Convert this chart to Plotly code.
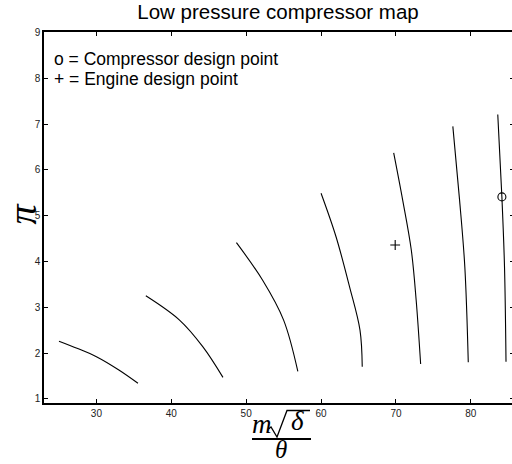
import plotly.graph_objects as go

# Speed lines of the low pressure compressor map
speed_lines = [
    ([25.0, 27.5, 30.0, 33.0, 35.55], [2.26, 2.10, 1.92, 1.63, 1.34]),
    ([36.6, 41.1, 44.2, 46.9], [3.25, 2.72, 2.14, 1.47]),
    ([48.7, 52.2, 55.0, 56.9], [4.41, 3.59, 2.72, 1.60]),
    ([60.0, 62.0, 63.8, 65.2, 65.5], [5.49, 4.54, 3.45, 2.50, 1.70]),
    ([69.7, 70.9, 72.05, 72.7, 73.3], [6.37, 5.34, 4.25, 3.16, 1.76]),
    ([77.6, 78.5, 79.2, 79.66], [6.95, 5.34, 3.88, 1.80]),
    ([83.6, 84.15, 84.5, 84.7], [7.21, 5.41, 3.88, 1.81]),
]
compressor_design = ([84.15], [5.41])
engine_design = ([69.9], [4.36])

x_ticks = [30, 40, 50, 60, 70, 80]
y_ticks = [1, 2, 3, 4, 5, 6, 7, 8, 9]
x_range = [23, 85.5]
y_range = [0.91, 9.01]

W, H = 512, 464
L, R, T, B = 44, 0, 32, 61
PW, PH = W - L - R, H - T - B


def px(xp):  # picture pixel x -> paper
    return (xp - L) / PW


def py(yp):  # picture pixel y -> paper
    return (H - B - yp) / PH


fig = go.Figure()
for xs, ys in speed_lines:
    fig.add_trace(go.Scatter(x=xs, y=ys, mode="lines",
                             line=dict(color="black", width=1.1, shape="spline"),
                             showlegend=False, hoverinfo="skip"))
fig.add_trace(go.Scatter(x=compressor_design[0], y=compressor_design[1], mode="markers",
                         marker=dict(symbol="circle-open", size=8, color="black",
                                     line=dict(width=1.1)), showlegend=False))
fig.add_trace(go.Scatter(x=engine_design[0], y=engine_design[1], mode="markers",
                         marker=dict(symbol="cross-thin-open", size=7, color="black",
                                     line=dict(width=1.1)), showlegend=False))
fig.add_trace(go.Scatter(x=[], y=[], yaxis="y2", showlegend=False, hoverinfo="skip"))

axis_common = dict(showline=True, linecolor="black", linewidth=1.5, ticks="inside",
                   ticklen=4, tickcolor="black", showgrid=False, zeroline=False,
                   tickfont=dict(size=10, color="#222", family="Liberation Sans"))
fig.update_xaxes(range=x_range, tickvals=x_ticks, mirror="ticks", **axis_common)
fig.update_yaxes(range=y_range, tickvals=y_ticks, mirror=False, **axis_common)
fig.update_layout(yaxis2=dict(overlaying="y", side="right", anchor="x", range=y_range,
                              tickvals=y_ticks, showticklabels=False, ticks="inside",
                              ticklen=2, tickcolor="black", showline=False,
                              showgrid=False, zeroline=False))

serif = "Liberation Serif"
ann = [
    dict(x=px(52), y=py(59), text="o = Compressor design point", xanchor="left", yanchor="middle",
         font=dict(size=17.5, family="Liberation Sans", color="black")),
    dict(x=px(52), y=py(79), text="+ = Engine design point", xanchor="left", yanchor="middle",
         font=dict(size=17.5, family="Liberation Sans", color="black")),
    dict(x=px(21.5), y=py(214), text="<i>π</i>", textangle=-90, xanchor="center", yanchor="middle",
         borderpad=0, font=dict(size=40, family=serif, color="black")),
    dict(x=px(262), y=py(424), text="<i>m</i>", xanchor="center", yanchor="middle",
         font=dict(size=27, family=serif, color="black")),
    dict(x=px(297), y=py(421), text="<i>δ</i>", xanchor="center", yanchor="middle",
         font=dict(size=27, family=serif, color="black")),
    dict(x=px(281), y=py(450), text="<i>θ</i>", xanchor="center", yanchor="middle",
         borderpad=0, font=dict(size=25, family=serif, color="black")),
]
for a in ann:
    a.update(xref="paper", yref="paper", showarrow=False)
fig.update_layout(annotations=ann)

# fraction bar
fig.add_shape(type="line", xref="paper", yref="paper", x0=px(252), x1=px(311),
              y0=py(439), y1=py(439), line=dict(color="black", width=2))
# radical sign with its vinculum
rad = [(268.5, 429), (271, 427), (277, 437), (287, 410.5), (310, 410.5)]
path = "M " + " L ".join(f"{px(a):.5f},{py(b):.5f}" for a, b in rad)
fig.add_shape(type="path", xref="paper", yref="paper", path=path,
              line=dict(color="black", width=1.3))

fig.update_layout(
    width=W, height=H, margin=dict(l=L, r=R, t=T, b=B),
    paper_bgcolor="white", plot_bgcolor="white",
    title=dict(text="Low pressure compressor map", x=px(278), xref="paper", xanchor="center",
               y=1 - 12 / H, yref="container", yanchor="middle",
               font=dict(size=20.5, family="Liberation Sans", color="black")),
)
fig.write_html("out.html", config={"displayModeBar": False},
               post_script="document.body.style.margin='0';document.body.style.overflow='hidden';")
